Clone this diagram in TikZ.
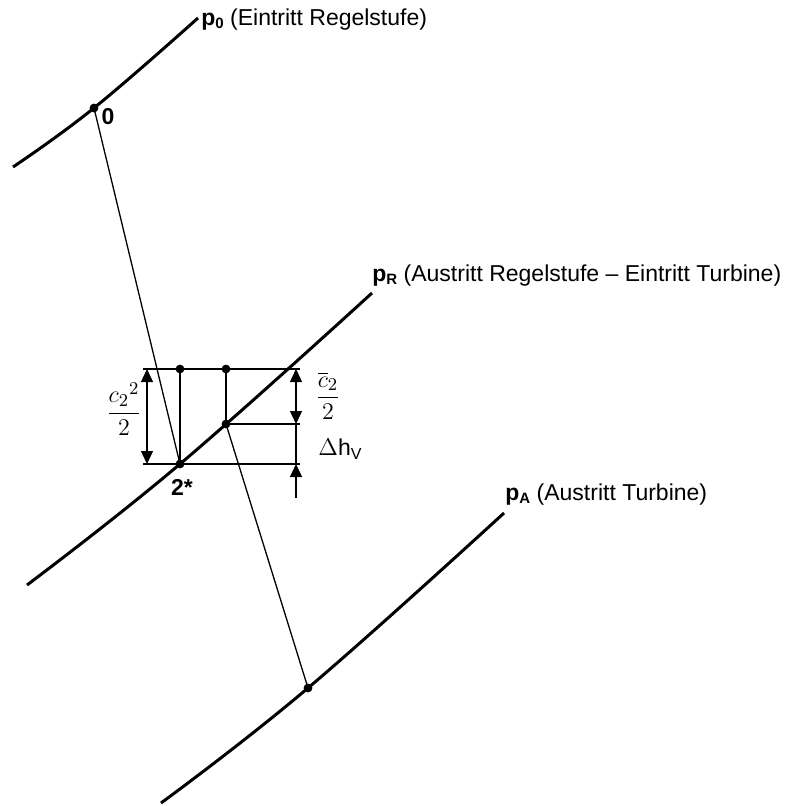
\documentclass[tikz,border=0pt]{standalone}
\usepackage{amsmath}
\usepackage[no-math]{fontspec}
\setmainfont{Liberation Sans}
\usetikzlibrary{arrows.meta,positioning,calc}

\begin{document}
\begin{tikzpicture}[
  x=0.5pt, y=-0.5pt,
  font=\fontsize{11.5}{13}\selectfont,
  isobar/.style={line width=1.5pt},
  ln/.style={line width=0.65pt},
  dim/.style={ln, {Triangle[length=6.5pt, width=6pt]}-{Triangle[length=6.5pt, width=6pt]}},
  dimup/.style={ln, -{Triangle[length=6.5pt, width=6pt]}},
  dot/.style={circle, fill, inner sep=0pt, minimum size=4.4pt},
  lbl/.style={inner sep=1pt},
  frac/.style={inner sep=1pt, font=\fontsize{12.5}{14}\selectfont}]

\useasboundingbox (0,0) rectangle (784,806);

% =================== the three isobars ===================================
\draw[isobar] plot[smooth, tension=0.7] coordinates
    {(13,167) (94,108) (198,18)};
\draw[isobar] plot[smooth, tension=0.7] coordinates
    {(27,585) (180,464) (372,293)};
\draw[isobar] plot[smooth, tension=0.7] coordinates
    {(161,803) (308,688) (504,513)};

\node[lbl, anchor=west] (lp0) at (199,20)
    {\textbf{p}\raisebox{-0.2ex}{\fontsize{7.5}{8}\selectfont\bfseries 0} (Eintritt Regelstufe)};
\node[lbl, anchor=west] (lpR) at (370,276)
    {\textbf{p}\raisebox{-0.2ex}{\fontsize{7.5}{8}\selectfont\bfseries R} (Austritt Regelstufe -- Eintritt Turbine)};
\node[lbl, anchor=west] (lpA) at (503,495)
    {\textbf{p}\raisebox{-0.2ex}{\fontsize{7.5}{8}\selectfont\bfseries A} (Austritt Turbine)};

% =================== state points and expansion lines ====================
\node[dot] (P0) at (94,108) {};
\node[dot] (P2s) at (180,464) {};
\node[dot] (P2) at (226,424) {};
\node[dot] (PA) at (308,688) {};
\node[dot] (T2s) at (180,369) {};
\node[dot] (T2) at (226,369) {};

\node[lbl] (l0) at (108,117) {\textbf{0}};
\node[lbl] (l2s) at (182,487) {\textbf{2*}};

\draw[ln] (P0.center) -- (P2s.center);
\draw[ln] (P2.center) -- (PA.center);
\draw[ln] (T2s.center) -- (P2s.center);
\draw[ln] (T2.center) -- (P2.center);

% =================== velocity head and loss ==============================
\coordinate (topL) at (143,369);
\coordinate (topR) at (300,369);
\coordinate (botL) at (143,464);
\coordinate (botR) at (300,464);
\coordinate (midR) at (300,424);
\draw[ln] (topL) -- (topR);
\draw[ln] (botL) -- (botR);
\draw[ln] (P2.center) -- (midR);

\coordinate (dl1) at (147,369);
\coordinate (dl2) at (147,464);
\draw[dim] (dl1) -- (dl2);

\coordinate (dr1) at (296,369);
\coordinate (dr2) at (296,424);
\coordinate (dr3) at (296,464);
\coordinate (dr4) at (296,498);
\draw[dim] (dr1) -- (dr2);
\draw[ln] (dr2) -- (dr3);
\draw[dimup] (dr4) -- (dr3);

\node[frac] (lc2) at (124,409) {$\dfrac{{c_2}^2}{2}$};
\node[frac] (lc2m) at (328,396) {$\dfrac{\overline{c}_2}{2}$};
\node[lbl] (ldh) at (340,449)
    {$\Delta$h\raisebox{-0.35ex}{\fontsize{8}{9}\selectfont V}};
\end{tikzpicture}
\end{document}
